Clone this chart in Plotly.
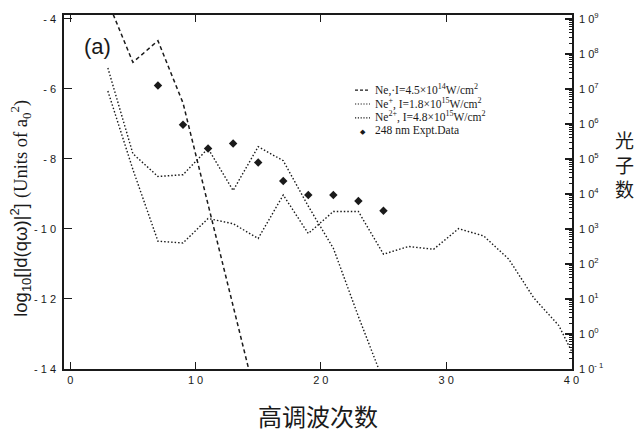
import plotly.graph_objects as go

# ---------------- data ----------------
harm_ne = [3, 5, 7, 9, 11, 13, 15]
val_ne = [-3.5, -5.24, -4.62, -6.4, -9.3, -12.2, -15.1]

harm_ne1 = [3, 5, 7, 9, 11, 13, 15, 17, 19, 21, 23, 25]
val_ne1 = [-5.4, -7.85, -8.5, -8.45, -7.7, -8.9, -7.65, -8.05, -9.35, -10.55, -12.5, -14.35]

harm_ne2 = [3, 5, 7, 9, 11, 13, 15, 17, 19, 21, 23, 25, 27, 29, 31, 33, 35, 37, 39, 41]
val_ne2 = [-6.06, -8.3, -10.35, -10.4, -9.7, -9.85, -10.27, -9.03, -10.13, -9.5, -9.5,
           -10.72, -10.5, -10.58, -9.99, -10.2, -10.86, -11.97, -12.76, -14.2]

harm_exp = [7, 9, 11, 13, 15, 17, 19, 21, 23, 25]
val_exp = [-5.9, -7.02, -7.7, -7.56, -8.1, -8.63, -9.03, -9.03, -9.2, -9.48]

x_ticks = [0, 10, 20, 30, 40]
x_ticktext = ["0", "1 0", "2 0", "3 0", "4 0"]
y_ticks = [-4, -6, -8, -10, -12, -14]
y_ticktext = ["- 4", "- 6", "- 8", "- 1 0", "- 1 2", "- 1 4"]
r_exps = list(range(-1, 10))
r_ticktext = ["1 0<sup>" + ("- 1" if e == -1 else str(e)) + "</sup>" for e in r_exps]

legend_labels = [
    "Ne,·I=4.5×10<sup>14</sup>W/cm<sup>2</sup>",
    "Ne<sup>+</sup>, I=1.8×10<sup>15</sup>W/cm<sup>2</sup>",
    "Ne<sup>2+</sup>, I=4.8×10<sup>15</sup>W/cm<sup>2</sup>",
    "248 nm Expt.Data",
]

# ---------------- figure ----------------
INK = "#1a1a1a"
W, H = 637, 432
L, R, T, B = 64, 65, 11, 63
PW, PH = W - L - R, H - T - B

def px_x(p):
    return (p - L) / PW

def px_y(p):
    return (H - B - p) / PH

fig = go.Figure()
fig.add_trace(go.Scatter(x=harm_ne, y=val_ne, mode="lines",
                         line=dict(color=INK, width=1.5, dash="4px,3px"), showlegend=False))
fig.add_trace(go.Scatter(x=harm_ne1, y=val_ne1, mode="lines",
                         line=dict(color=INK, width=1.4, dash="1.5px,2px"), showlegend=False))
fig.add_trace(go.Scatter(x=harm_ne2, y=val_ne2, mode="lines",
                         line=dict(color=INK, width=1.4, dash="1.5px,2px"), showlegend=False))
fig.add_trace(go.Scatter(x=harm_exp, y=val_exp, mode="markers",
                         marker=dict(symbol="diamond", size=6.5, color=INK), showlegend=False))
# register right axes
fig.add_trace(go.Scatter(x=[None], y=[None], yaxis="y2", showlegend=False, hoverinfo="skip"))
fig.add_trace(go.Scatter(x=[None], y=[None], yaxis="y3", showlegend=False, hoverinfo="skip"))

minor_vals = [m * 10 ** d for d in range(-1, 9) for m in range(2, 10)]

tickfont = dict(family="Liberation Sans, Arial, sans-serif", size=11, color=INK)
fig.update_layout(
    width=W, height=H,
    margin=dict(l=L, r=R, t=T, b=B),
    paper_bgcolor="white", plot_bgcolor="white",
    showlegend=False,
    xaxis=dict(range=[-0.5, 40.05], tickvals=x_ticks, ticktext=x_ticktext,
               ticks="inside", ticklen=7, tickwidth=1.2, tickcolor=INK,
               showline=True, linewidth=1.6, linecolor=INK, mirror="ticks",
               showgrid=False, zeroline=False, tickfont=tickfont),
    yaxis=dict(range=[-14, -3.887], tickvals=y_ticks, ticktext=y_ticktext,
               ticks="inside", ticklen=8, tickwidth=1.2, tickcolor=INK,
               showline=True, linewidth=1.6, linecolor=INK,
               showgrid=False, zeroline=False, tickfont=tickfont, ticklabelstandoff=4),
    yaxis2=dict(overlaying="y", side="right", type="log", range=[-1, 9.11],
                tickvals=[10 ** e for e in r_exps], ticktext=r_ticktext,
                ticks="inside", ticklen=7, tickwidth=2, tickcolor=INK,
                showline=True, linewidth=1.6, linecolor=INK,
                showgrid=False, zeroline=False, tickfont=tickfont, ticklabelstandoff=3),
    yaxis3=dict(overlaying="y", side="right", type="log", range=[-1, 9.11],
                tickvals=minor_vals, ticks="inside", ticklen=3, tickwidth=1, tickcolor=INK,
                showticklabels=False, showline=False, showgrid=False, zeroline=False),
)

def ann(text, x, y, **kw):
    d = dict(text=text, x=px_x(x), y=px_y(y), xref="paper", yref="paper",
             xanchor="center", yanchor="middle", showarrow=False)
    d.update(kw)
    return d

annotations = [
    ann("(a)", 97, 43, font=dict(family="Liberation Sans, Arial", size=22, color=INK)),
    ann("高调波次数", 318, 416, font=dict(family="Noto Sans CJK SC", size=24, color=INK)),
    ann("光<br>子<br>数", 624, 162, font=dict(family="Noto Sans CJK SC", size=19, color=INK)),
    ann("log<sub>10</sub>[|d(qω)|<sup>2</sup>] "
        "<span style=\"font-family:'Liberation Serif',serif\">(Units of a<sub>0</sub><sup>2</sup>)</span>",
        21, 207, textangle=-90, font=dict(family="Liberation Sans, Arial", size=18.5, color=INK)),
]

row_y = [86, 100, 114, 128]
dashes = ["3px,2px", "1.2px,1.6px", "1.2px,1.6px"]
shapes = []
for i, lab in enumerate(legend_labels):
    annotations.append(ann(lab, 373, row_y[i], xanchor="left",
                           font=dict(family="Liberation Serif, Times New Roman, serif", size=11.5, color=INK)))
    if i < 3:
        shapes.append(dict(type="line", xref="paper", yref="paper",
                           x0=px_x(355), x1=px_x(370), y0=px_y(row_y[i] + 1), y1=px_y(row_y[i] + 1),
                           line=dict(color=INK, width=1.2, dash=dashes[i])))
    else:
        annotations.append(ann("◆", 363, row_y[i] + 1, font=dict(size=7, color=INK)))

fig.update_layout(annotations=annotations, shapes=shapes)
fig.write_html("out.html")
